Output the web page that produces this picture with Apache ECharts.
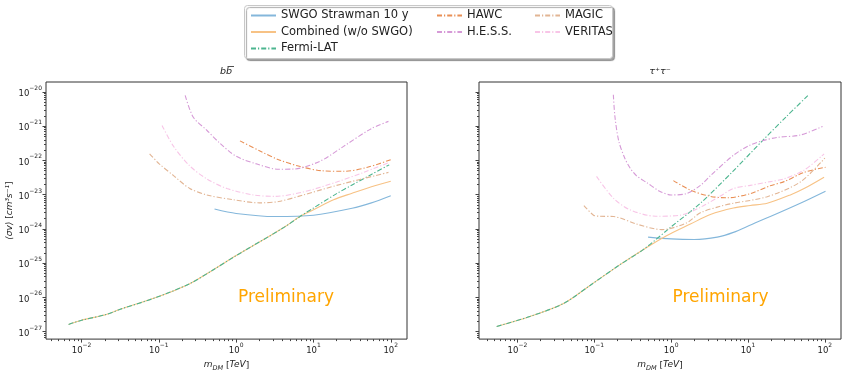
<!DOCTYPE html>
<html><head><meta charset="utf-8">
<script src="https://cdn.jsdelivr.net/npm/echarts@6/dist/echarts.min.js"></script>
<style>html,body{margin:0;padding:0;background:#fff}#c{width:847px;height:377px}</style>
</head><body><div id="c"></div>
<script>
// ---- data: [mass (TeV), <sigma v> (cm^3 s^-1)] ----
// b bbar channel
const bbSWGO = [[0.525,3.8e-24],[1.0,2.82e-24],[3.16,2.29e-24],[10,2.51e-24],[31.6,3.98e-24],[56.2,5.75e-24],[100,9.3e-24]];
const bbCombined = [[0.0068,1.62e-27],[0.010,2.14e-27],[0.0209,3.16e-27],[0.0316,4.47e-27],[0.0933,1.0e-26],[0.251,2.51e-26],[0.501,6.3e-26],[1.0,1.66e-25],[2.75,6.31e-25],[4.47,1.23e-24],[6.76,2.34e-24],[10,3.6e-24],[18.2,7.1e-24],[31.6,1.10e-23],[56.2,1.70e-23],[100,2.45e-23]];
const bbFermi = [[0.0068,1.62e-27],[0.010,2.14e-27],[0.0209,3.16e-27],[0.0316,4.47e-27],[0.0933,1.0e-26],[0.251,2.51e-26],[0.501,6.3e-26],[1.0,1.66e-25],[2.75,6.31e-25],[4.47,1.23e-24],[6.76,2.34e-24],[10,4.07e-24],[19.95,1.07e-23],[31.6,1.91e-23],[56.2,3.9e-23],[95.5,7.4e-23]];
const bbHAWC = [[1.12,3.72e-22],[2.0,1.91e-22],[3.55,1.05e-22],[6.76,6.6e-23],[12.6,5.0e-23],[25.1,4.8e-23],[50.1,6.3e-23],[100,1.05e-22]];
const bbHESS = [[0.219,7.9e-21],[0.279,1.82e-21],[0.417,7.6e-22],[0.617,3.16e-22],[1.0,1.32e-22],[1.86,7.8e-23],[3.55,5.5e-23],[5.62,5.6e-23],[12.2,9.5e-23],[24.5,2.57e-22],[56.2,8.5e-22],[93.3,1.38e-21]];
const bbMAGIC = [[0.0759,1.55e-22],[0.102,7.8e-23],[0.155,3.6e-23],[0.251,1.51e-23],[0.417,9.8e-24],[0.912,7.1e-24],[2.0,5.75e-24],[3.55,6.3e-24],[7.41,9.8e-24],[19.95,1.86e-23],[93.3,4.47e-23]];
const bbVERITAS = [[0.11,1.05e-21],[0.155,2.57e-22],[0.251,6.9e-23],[0.417,2.88e-23],[0.759,1.51e-23],[1.66,9.8e-24],[3.16,8.9e-24],[7.41,1.20e-23],[19.95,2.34e-23],[44.7,4.47e-23],[93.3,8.5e-23]];
// tau+ tau- channel
const ttSWGO = [[0.501,5.75e-25],[1.0,5.1e-25],[2.0,4.9e-25],[3.98,5.75e-25],[6.46,7.9e-25],[11.2,1.35e-24],[19.5,2.29e-24],[47.9,5.6e-24],[102,1.26e-23]];
const ttCombined = [[0.00537,1.41e-27],[0.0145,2.75e-27],[0.0398,6.6e-27],[0.0871,2.19e-26],[0.214,8.9e-26],[0.437,2.51e-25],[0.871,6.3e-25],[1.78,1.38e-24],[3.24,2.63e-24],[6.46,4.07e-24],[10.7,4.8e-24],[17.8,5.6e-24],[35.5,9.8e-24],[53.7,1.51e-23],[97.7,3.24e-23]];
const ttFermi = [[0.00537,1.41e-27],[0.0145,2.75e-27],[0.0398,6.6e-27],[0.0871,2.19e-26],[0.214,8.9e-26],[0.437,2.51e-25],[1.0,1.15e-24],[2.40,5.6e-24],[6.31,4.7e-23],[15.8,3.98e-22],[31.6,1.91e-21],[61.7,8.3e-21]];
const ttHAWC = [[1.07,2.57e-23],[1.78,1.35e-23],[3.24,8.9e-24],[5.37,8.1e-24],[10.7,1.07e-23],[19.5,1.82e-23],[29.5,2.4e-23],[53.7,4.47e-23],[102,6.3e-23]];
const ttHESS = [[0.177,8.3e-21],[0.186,1.82e-21],[0.209,3.55e-22],[0.251,1.12e-22],[0.292,6.0e-23],[0.355,3.55e-23],[0.482,2.24e-23],[0.708,1.26e-23],[1.0,9.8e-24],[1.585,1.07e-23],[2.40,1.86e-23],[3.24,3.55e-23],[6.46,1.41e-22],[10.7,2.82e-22],[15.8,3.8e-22],[24.0,4.7e-22],[47.9,5.5e-22],[93.3,9.8e-22]];
const ttMAGIC = [[0.0733,4.8e-24],[0.0977,2.51e-24],[0.117,2.34e-24],[0.178,2.29e-24],[0.355,1.38e-24],[0.759,9.5e-25],[1.60,1.51e-24],[2.40,2.95e-24],[4.37,4.57e-24],[6.46,5.6e-24],[17.8,8.7e-24],[47.9,2.34e-23],[100,1.17e-22]];
const ttVERITAS = [[0.107,3.4e-23],[0.178,7.8e-24],[0.292,3.6e-24],[0.631,2.34e-24],[1.31,2.51e-24],[2.40,4.27e-24],[4.37,9.1e-24],[6.46,1.51e-23],[10.7,1.86e-23],[19.5,2.4e-23],[29.2,2.88e-23],[53.7,5.2e-23],[97.7,1.55e-22]];

const seriesNames = ['SWGO Strawman 10 y','Combined (w/o SWGO)','Fermi-LAT','HAWC','H.E.S.S.','MAGIC','VERITAS'];
const panelTitles = ['bb', '\u03c4\u207a\u03c4\u207b'];
const xMajorExp = [-2,-1,0,1,2];
const yMajorExp = [-27,-26,-25,-24,-23,-22,-21,-20];
const watermark = 'Preliminary';

// ---- styling ----
const colors = ['#84b7db','#f7c285','#4cb58f','#e98f55','#d69ad7','#e2b594','#f8c5e7'];
const dashDot = [5,2,1.2,2];
const lineTypes = ['solid','solid',dashDot,dashDot,dashDot,dashDot,dashDot];
const FONT = 'DejaVu Sans';
const xRangeL = [-2.46, 2.21], xRangeR = [-2.50, 2.21], yRange = [-27.22, -19.71];

const toLog = arr => arr.map(p => [Math.log10(p[0]), Math.log10(p[1])]);
function minors(lo, hi){ const out=[]; for(let n=Math.floor(lo); n<=Math.ceil(hi); n++){ for(let k=2;k<=9;k++){ const v=n+Math.log10(k); if(v>lo && v<hi) out.push(v);} } return out; }
const supFmt = v => '{b|10}{s|' + (v<0 ? '\u2212'+(-v) : v) + '}';
const tickRich = { b:{fontSize:8.5, fontFamily:FONT, color:'#222', lineHeight:13, verticalAlign:'bottom'}, s:{fontSize:6, fontFamily:FONT, color:'#222', verticalAlign:'top'} };
const axisCol = '#444';

function xAxes(grid, range){
  return [
    {type:'value', gridIndex:grid, min:range[0], max:range[1], position:'bottom',
     axisLine:{show:false, onZero:false}, splitLine:{show:false},
     axisTick:{customValues:xMajorExp, length:3.5, lineStyle:{color:axisCol}},
     axisLabel:{customValues:xMajorExp, formatter:supFmt, rich:tickRich, margin:3},
     name:'{i|m}{sub|DM} [{i|TeV}]', nameLocation:'middle', nameGap:15,
     nameTextStyle:{rich:{i:{fontStyle:'italic',fontFamily:FONT,fontSize:9,color:'#222',verticalAlign:'top',lineHeight:12}, sub:{fontStyle:'italic',fontFamily:FONT,fontSize:6.5,color:'#222',verticalAlign:'bottom'}}, fontFamily:FONT, fontSize:9, color:'#222'}},
    {type:'value', gridIndex:grid, min:range[0], max:range[1], position:'bottom',
     axisLine:{show:false, onZero:false}, splitLine:{show:false}, axisLabel:{show:false},
     axisTick:{customValues:minors(range[0],range[1]), length:2, lineStyle:{color:axisCol}}}
  ];
}
function yAxes(grid, showLabels){
  const main = {type:'value', gridIndex:grid, min:yRange[0], max:yRange[1], position:'left',
     axisLine:{show:false, onZero:false}, splitLine:{show:false},
     axisTick:{customValues:yMajorExp, length:3.5, lineStyle:{color:axisCol}},
     axisLabel:{show:showLabels, customValues:yMajorExp, formatter:supFmt, rich:tickRich, margin:4}};
  if(showLabels){
    main.name = '{i|\u27e8\u03c3v\u27e9} [{i|cm\u00b3s\u207b\u00b9}]';
    main.nameLocation='middle'; main.nameGap=30; main.nameRotate=90;
    main.nameTextStyle={rich:{i:{fontStyle:'italic',fontFamily:FONT,fontSize:9,color:'#222'}}, fontFamily:FONT, fontSize:9, color:'#222'};
  }
  return [main,
    {type:'value', gridIndex:grid, min:yRange[0], max:yRange[1], position:'left',
     axisLine:{show:false, onZero:false}, splitLine:{show:false}, axisLabel:{show:false},
     axisTick:{customValues:minors(yRange[0],yRange[1]), length:2, lineStyle:{color:axisCol}}}];
}

const panels = [
  [bbSWGO,bbCombined,bbFermi,bbHAWC,bbHESS,bbMAGIC,bbVERITAS],
  [ttSWGO,ttCombined,ttFermi,ttHAWC,ttHESS,ttMAGIC,ttVERITAS]
];
const series = [];
panels.forEach((pd, pi) => {
  pd.forEach((d, i) => {
    series.push({type:'line', name:seriesNames[i], xAxisIndex:pi*2, yAxisIndex:pi*2,
      data:toLog(d), symbol:'none', showSymbol:false, smooth:0.3,
      lineStyle:{color:colors[i], width:1.1, type:lineTypes[i]}, itemStyle:{color:colors[i]},
      z: 2+i, silent:true, animation:false});
  });
});

const legendCommon = {orient:'vertical', top:8.5, padding:0, itemWidth:25, itemHeight:10, itemGap:2.5, selectedMode:false,
  itemStyle:{opacity:0},
  textStyle:{fontFamily:FONT, fontSize:11.5, color:'#222', lineHeight:14}, z:5};
const grids = [
  {left:46, top:82, width:361, height:264},
  {left:479, top:82, width:362, height:264}
];

const chart = echarts.init(document.getElementById('c'), null, {renderer:'canvas'});
chart.setOption({
  animation:false,
  backgroundColor:'#fff',
  grid: grids.map(g => Object.assign({show:true, borderColor:'#333', borderWidth:1, backgroundColor:'transparent'}, g)),
  xAxis: [...xAxes(0, xRangeL), ...xAxes(1, xRangeR)],
  yAxis: [...yAxes(0, true), ...yAxes(1, false)],
  legend: [
    Object.assign({left:250, data:seriesNames.slice(0,3)}, legendCommon),
    Object.assign({left:436, data:seriesNames.slice(3,5)}, legendCommon),
    Object.assign({left:534, data:seriesNames.slice(5,7)}, legendCommon)
  ],
  graphic: [
    {type:'rect', z:1, shape:{x:244.5, y:5.5, width:368, height:53, r:3},
     style:{fill:'#fff', stroke:'#c8c8c8', lineWidth:1, shadowColor:'rgba(0,0,0,0.35)', shadowOffsetX:2, shadowOffsetY:2, shadowBlur:1}},
    {type:'text', x:226, y:77, style:{text:panelTitles[0], fontFamily:FONT, fontSize:9.5, fontStyle:'italic', fill:'#222', textAlign:'center', textVerticalAlign:'bottom'}},
    {type:'line', shape:{x1:227.5, y1:66.5, x2:234, y2:66.5}, style:{stroke:'#222', lineWidth:0.8}},
    {type:'text', x:660, y:77, style:{text:panelTitles[1], fontFamily:FONT, fontSize:9.5, fontStyle:'italic', fill:'#222', textAlign:'center', textVerticalAlign:'bottom'}},
    {type:'text', x:286, y:298, z:10, style:{text:watermark, fontFamily:FONT, fontSize:17, fill:'#ffa500', textAlign:'center', textVerticalAlign:'middle'}},
    {type:'text', x:720.5, y:298, z:10, style:{text:watermark, fontFamily:FONT, fontSize:17, fill:'#ffa500', textAlign:'center', textVerticalAlign:'middle'}}
  ],
  series: series
});
</script>
</body></html>
